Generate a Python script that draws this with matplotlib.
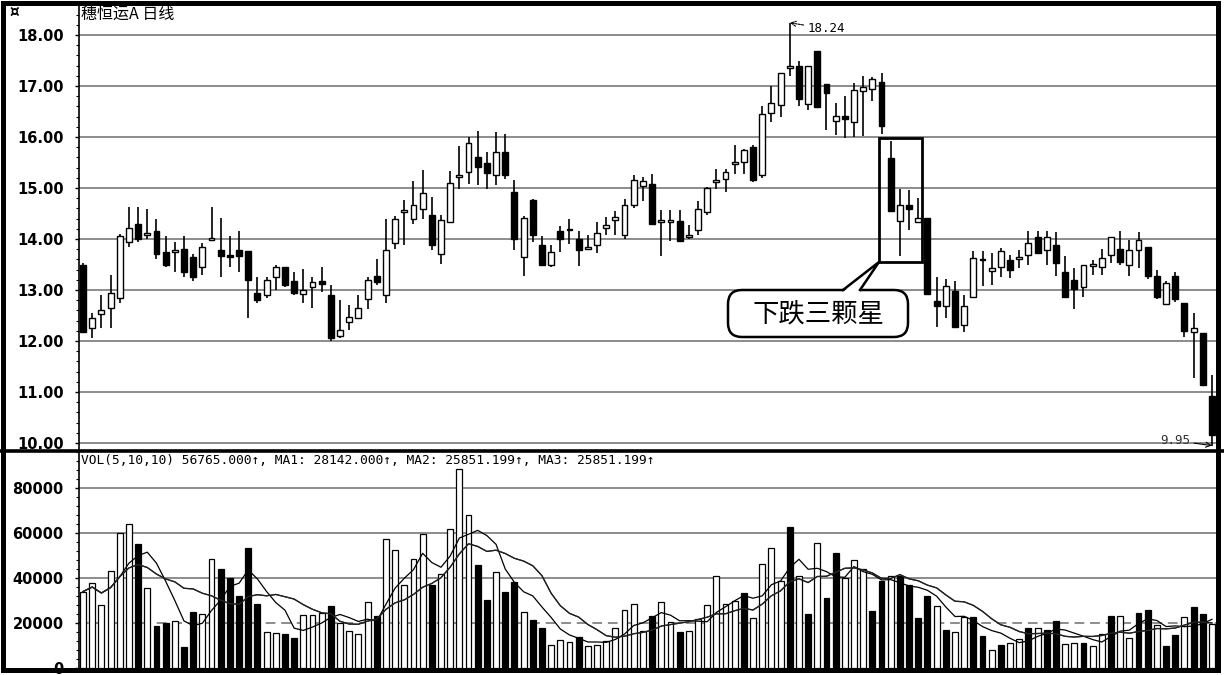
import matplotlib
matplotlib.use("Agg")
import matplotlib.pyplot as plt
import numpy as np
import pandas as pd
from matplotlib.patches import Rectangle, FancyBboxPatch, Polygon
from matplotlib.lines import Line2D
from matplotlib.ticker import MultipleLocator, FixedLocator, FormatStrFormatter

plt.rcParams['font.family'] = ['DejaVu Sans', 'Noto Sans CJK SC']

# 日线数据 (开, 高, 低, 收) 从图上读出
opens = [13.50, 12.25, 12.52, 12.65, 12.85, 13.95, 14.30, 14.07, 14.15, 13.75,
         13.74, 13.80, 13.65, 13.45, 13.99, 13.78, 13.66, 13.78, 13.77, 12.95,
         12.90, 13.25, 13.45, 13.17, 12.93, 13.05, 13.17, 12.90, 12.10, 12.38,
         12.45, 12.82, 13.27, 12.90, 13.92, 14.53, 14.40, 14.58, 14.47, 13.71,
         14.34, 15.22, 15.32, 15.60, 15.50, 15.25, 15.70, 14.93, 13.65, 14.76,
         13.88, 13.49, 14.16, 14.17, 14.00, 13.80, 13.88, 14.22, 14.37, 14.08,
         14.66, 15.03, 15.08, 14.33, 14.34, 14.35, 14.03, 14.17, 14.53, 15.12,
         15.18, 15.48, 15.51, 15.80, 15.25, 16.48, 16.63, 17.35, 17.39, 16.64,
         17.68, 17.04, 16.32, 16.41, 16.29, 16.91, 16.95, 17.08, 15.59, 14.35,
         14.66, 14.34, 14.41, 12.79, 12.69, 12.99, 12.32, 12.86, 13.60, 13.37,
         13.46, 13.59, 13.61, 13.69, 14.04, 13.79, 13.88, 13.36, 13.20, 13.06,
         13.48, 13.46, 13.69, 13.80, 13.50, 13.79, 13.85, 13.28, 12.72, 13.28,
         12.74, 12.17, 12.16, 10.92]
highs = [13.52, 12.55, 12.90, 13.30, 14.10, 14.62, 14.62, 14.58, 14.40, 14.05,
         13.95, 14.05, 13.70, 13.92, 14.62, 14.42, 14.05, 14.15, 13.77, 13.25,
         13.25, 13.50, 13.45, 13.35, 13.42, 13.25, 13.45, 13.10, 12.80, 12.70,
         12.90, 13.25, 13.60, 14.40, 14.45, 14.76, 15.13, 15.36, 14.83, 14.47,
         15.33, 15.82, 16.00, 16.11, 15.70, 16.10, 16.05, 15.15, 14.45, 14.78,
         14.05, 13.88, 14.25, 14.40, 14.16, 14.08, 14.33, 14.44, 14.55, 14.79,
         15.25, 15.21, 15.27, 14.57, 14.57, 14.57, 14.28, 14.75, 15.02, 15.37,
         15.37, 15.85, 15.77, 15.85, 16.60, 17.00, 17.25, 18.24, 17.50, 17.39,
         17.68, 17.04, 16.66, 16.81, 17.06, 17.20, 17.18, 17.25, 15.93, 14.98,
         14.96, 14.80, 14.41, 13.26, 13.22, 13.17, 12.90, 13.76, 13.76, 13.72,
         13.82, 13.69, 13.78, 14.16, 14.16, 14.16, 14.13, 13.67, 13.43, 13.50,
         13.59, 13.80, 14.03, 14.15, 13.98, 14.13, 13.85, 13.40, 13.18, 13.35,
         12.74, 12.55, 12.16, 11.33]
lows = [12.15, 12.05, 12.25, 12.25, 12.75, 13.85, 13.95, 14.00, 13.60, 13.45,
        13.35, 13.25, 13.18, 13.30, 13.97, 13.25, 13.45, 13.35, 12.45, 12.75,
        12.85, 13.00, 13.05, 12.90, 12.75, 12.65, 12.97, 12.00, 12.05, 12.22,
        12.45, 12.62, 13.10, 12.75, 13.80, 13.88, 14.30, 14.40, 13.78, 13.51,
        14.31, 14.98, 15.07, 15.05, 14.99, 15.05, 15.17, 13.78, 13.28, 13.95,
        13.49, 13.45, 13.75, 13.90, 13.48, 13.79, 13.72, 14.08, 14.08, 14.00,
        14.60, 14.75, 14.28, 13.67, 13.97, 13.97, 14.00, 14.08, 14.48, 14.99,
        14.93, 15.27, 15.27, 15.12, 15.20, 16.30, 16.40, 17.20, 16.60, 16.52,
        16.58, 16.14, 16.04, 15.98, 16.00, 16.02, 16.70, 16.06, 14.55, 13.67,
        14.18, 14.33, 12.92, 12.28, 12.46, 12.27, 12.17, 12.86, 13.07, 13.10,
        13.26, 13.23, 13.43, 13.49, 13.72, 13.49, 13.28, 12.86, 12.63, 12.87,
        13.30, 13.30, 13.53, 13.49, 13.28, 13.43, 13.22, 12.82, 12.72, 12.77,
        12.07, 11.28, 11.14, 9.95]
closes = [12.18, 12.45, 12.60, 12.95, 14.05, 14.22, 14.00, 14.12, 13.70, 13.50,
          13.76, 13.35, 13.25, 13.85, 14.01, 13.67, 13.65, 13.66, 13.20, 12.80,
          13.20, 13.45, 13.10, 12.95, 13.00, 13.15, 13.12, 12.05, 12.22, 12.48,
          12.65, 13.20, 13.15, 13.78, 14.40, 14.56, 14.66, 14.90, 13.88, 14.38,
          15.10, 15.24, 15.88, 15.42, 15.29, 15.71, 15.25, 14.00, 14.41, 14.08,
          13.49, 13.75, 14.00, 14.19, 13.79, 13.84, 14.11, 14.28, 14.43, 14.67,
          15.15, 15.13, 14.30, 14.35, 14.36, 13.97, 14.08, 14.58, 15.00, 15.14,
          15.32, 15.50, 15.74, 15.15, 16.46, 16.66, 17.25, 17.37, 16.74, 17.39,
          16.58, 16.86, 16.41, 16.35, 16.93, 16.98, 17.13, 16.22, 14.55, 14.66,
          14.58, 14.41, 12.92, 12.69, 13.08, 12.27, 12.68, 13.62, 13.58, 13.44,
          13.76, 13.40, 13.63, 13.93, 13.72, 14.04, 13.52, 12.86, 13.02, 13.50,
          13.50, 13.62, 14.03, 13.55, 13.79, 13.98, 13.28, 12.86, 13.13, 12.82,
          12.20, 12.25, 11.14, 10.15]

volumes = [34000, 38000, 28000, 43000, 60000, 64000, 55000, 35500, 18500, 20000,
           21000, 9500, 25000, 24000, 48500, 44000, 40000, 32000, 53500, 28500,
           16000, 15500, 15000, 13500, 23500, 23500, 24500, 27500, 20000, 16500,
           15000, 29500, 23000, 57500, 52500, 37000, 48500, 59500, 37000, 42000,
           62000, 88400, 68000, 45600, 30400, 42500, 33600, 38300, 24700, 21200,
           17800, 10400, 12600, 11400, 13800, 9600, 10400, 11800, 17800, 25900,
           28600, 16300, 23000, 29300, 20300, 16000, 16600, 21800, 28100, 41000,
           28600, 30000, 33300, 22200, 46300, 53300, 38500, 62600, 41000, 24100,
           55500, 31100, 51000, 40000, 48100, 44000, 25200, 38500, 40700, 41000,
           37000, 22200, 31800, 27700, 17000, 15800, 22600, 22600, 14100, 8100,
           10100, 11100, 12900, 18000, 18000, 17000, 20700, 10700, 11100, 11100,
           9600, 15200, 23000, 23000, 13300, 24400, 25600, 19200, 9600, 14800,
           22600, 27100, 24100, 19700]
# w = 阳量(空心), b = 阴量(实心)
vol_colors = ("wwwwwwbwbbwbbwwbbbbbwwbbwwwbwwwwbwwwwwbwwwwbbwbbwbbwwwbwwwwwwwbwwbwwwwwwbwwwwbwbwbbwwwbbwbbbbwbwwbbwbwwbwbbwwbwwbwwbbwbbwbb")

title_text = "穗恒运A 日线"
vol_header = "VOL(5,10,10) 56765.000↑, MA1: 28142.000↑, MA2: 25851.199↑, MA3: 25851.199↑"
note_text = "下跌三颗星"
price_ticks = [10, 11, 12, 13, 14, 15, 16, 17, 18]
vol_ticks = [0, 20000, 40000, 60000, 80000]

W, H = 1224, 675
fig = plt.figure(figsize=(W / 100, H / 100), dpi=100)


def box(l, t, r, b):
    return [l / W, 1 - b / H, (r - l) / W, (b - t) / H]


axp = fig.add_axes(box(79, 5, 1216, 451))
axv = fig.add_axes(box(79, 451, 1216, 670))

n = len(opens)
x = np.arange(n)
o = np.array(opens); c = np.array(closes)
hi = np.array(highs); lo = np.array(lows)

# 价格面板
for lv in price_ticks:
    axp.axhline(lv, color='#8c8c8c', lw=1.4, zorder=0)
axp.vlines(x, lo, hi, color='black', lw=1.2, zorder=2)
body_bottom = np.minimum(o, c)
body_h = np.maximum(np.abs(c - o), 0.035)
up = c >= o
axp.bar(x, body_h, bottom=body_bottom, width=0.64,
        color=np.where(up, 'white', 'black'), edgecolor='black', lw=1.0, zorder=3)

axp.set_xlim(-0.44, n - 1 + 0.44)
axp.set_ylim(10 - 8 / 51, 18 + 30 / 51)
axp.yaxis.set_major_locator(FixedLocator(price_ticks))
axp.yaxis.set_minor_locator(MultipleLocator(0.2))
axp.yaxis.set_major_formatter(FormatStrFormatter('%.2f'))
axp.tick_params(axis='y', which='major', length=3, width=1, pad=8, labelsize=10.5)
axp.tick_params(axis='y', which='minor', length=2, width=0.8)
for lb in axp.get_yticklabels():
    lb.set_fontweight('bold')
axp.set_xticks([])
for s in ['top', 'right', 'bottom']:
    axp.spines[s].set_visible(False)
axp.spines['left'].set_linewidth(1.2)

axp.text(0.002, 0.999, title_text, transform=axp.transAxes, ha='left', va='top',
         fontsize=11.5, family=['Noto Sans CJK SC', 'DejaVu Sans'])

# 最高价与最低价标注
i_hi = int(np.argmax(hi))
axp.annotate(f"{hi[i_hi]:.2f}", xy=(i_hi, hi[i_hi]), xytext=(18, -6),
             textcoords='offset pixels', ha='left', va='center', fontsize=9,
             family='DejaVu Sans Mono',
             arrowprops=dict(arrowstyle='->', lw=0.8, color='black',
                             shrinkA=1, shrinkB=0, linestyle=(0, (2, 1))))
i_lo = int(np.argmin(lo))
axp.annotate(f"{lo[i_lo]:.2f}", xy=(i_lo, lo[i_lo]), xytext=(-22, 5),
             textcoords='offset pixels', ha='right', va='center', fontsize=9,
             family='DejaVu Sans Mono', color='#333333',
             arrowprops=dict(arrowstyle='->', lw=0.8, color='black',
                             shrinkA=1, shrinkB=0))

# 三颗星框
axp.add_patch(Rectangle((86.72, 13.55), 91.40 - 86.72, 15.98 - 13.55,
                        fill=False, ec='black', lw=2.0, zorder=5))

# 对话框 (以英寸为单位)
tr = fig.dpi_scale_trans
bub = FancyBboxPatch((7.28, H / 100 - 3.37), 1.80, 0.47,
                     boxstyle="round,pad=0,rounding_size=0.14",
                     fc='white', ec='black', lw=1.8, transform=tr, zorder=10)
fig.add_artist(bub)
tail = Polygon([(8.43, H / 100 - 2.90 - 0.02), (8.79, H / 100 - 2.62),
                (8.60, H / 100 - 2.90 - 0.02)],
               closed=True, fc='white', ec='none', transform=tr, zorder=11)
fig.add_artist(tail)
fig.add_artist(Line2D([8.43, 8.79, 8.60], [H / 100 - 2.90, H / 100 - 2.62, H / 100 - 2.90],
                      color='black', lw=1.8, transform=tr, zorder=12))
fig.text(8.18 / (W / 100), 1 - 3.14 / (H / 100), note_text, ha='center', va='center',
         fontsize=19, family=['Noto Sans CJK SC', 'DejaVu Sans'], zorder=13)

# 成交量面板
for lv in vol_ticks[2:]:
    axv.axhline(lv, color='#8c8c8c', lw=1.4, zorder=0)
axv.axhline(20000, color='#8c8c8c', lw=1.4, ls=(0, (5, 3)), zorder=0)
vc = ['white' if ch == 'w' else 'black' for ch in vol_colors]
axv.bar(x, volumes, width=0.64, color=vc, edgecolor='black', lw=0.9, zorder=2)
vs = pd.Series(volumes, dtype=float)
ma5 = vs.rolling(5, min_periods=1).mean()
ma10 = vs.rolling(10, min_periods=1).mean()
axv.plot(x, ma5, color='black', lw=0.9, zorder=4)
axv.plot(x, ma10, color='#222222', lw=0.9, zorder=4)
axv.plot(x, ma10, color='#222222', lw=0.9, zorder=4)

axv.set_xlim(-0.44, n - 1 + 0.44)
axv.set_ylim(-900, 96500)
axv.yaxis.set_major_locator(FixedLocator(vol_ticks))
axv.yaxis.set_minor_locator(MultipleLocator(4000))
axv.yaxis.set_major_formatter(FormatStrFormatter('%d'))
axv.tick_params(axis='y', which='major', length=3, width=1, pad=8, labelsize=10.5)
axv.tick_params(axis='y', which='minor', length=2, width=0.8)
for lb in axv.get_yticklabels():
    lb.set_fontweight('bold')
axv.set_xticks([])
for s in ['top', 'right', 'bottom']:
    axv.spines[s].set_visible(False)
axv.spines['left'].set_linewidth(1.2)
axv.text(0.002, 0.985, vol_header, transform=axv.transAxes, ha='left', va='top',
         fontsize=9.3, family='DejaVu Sans Mono')

# 外框和分隔线
fig.add_artist(Line2D([0, 1], [1 - 451 / H, 1 - 451 / H], transform=fig.transFigure,
                      color='black', lw=2.6))
fig.add_artist(Rectangle((3 / W, 1 - 670 / H), 1215 / W, 667.5 / H, transform=fig.transFigure,
                         fill=False, ec='black', lw=3.6))
fig.text(9 / W, 1 - 12 / H, "¤", ha='left', va='center', fontsize=11, fontweight='bold')

fig.savefig('out.png', dpi=100)
